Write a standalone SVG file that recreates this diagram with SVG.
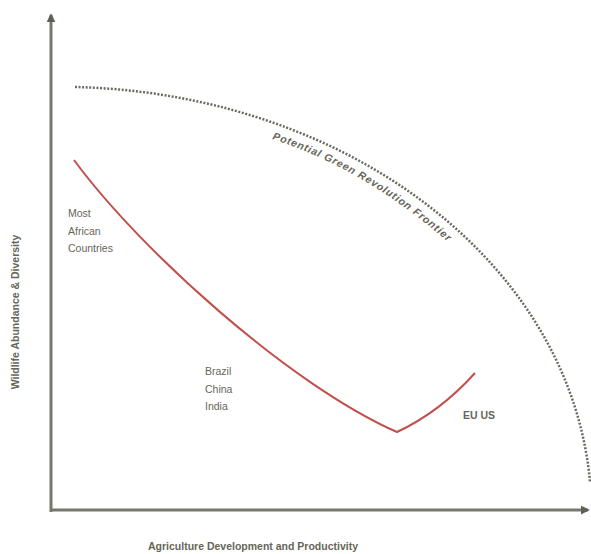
<svg xmlns="http://www.w3.org/2000/svg" width="591" height="554" viewBox="0 0 591 554">
<style>
.axis{stroke:#77786a;stroke-width:3;fill:none}
.lbl{font-family:"Liberation Sans",Arial,sans-serif;font-size:10.5px;fill:#66665a}
.b{font-weight:bold}
</style>
<defs>
<marker id="ah" viewBox="0 0 10 10" refX="8" refY="5" markerWidth="3" markerHeight="3" orient="auto">
<path d="M0,0 L10,5 L0,10 z" fill="#5f6055"/>
</marker>
<path id="fp" d="M272,139 Q 375,172 470,262"/>
</defs>
<rect width="591" height="554" fill="#fff"/>
<g id="axes">
<line class="axis" x1="51" y1="512" x2="51" y2="15" marker-end="url(#ah)"/>
<line class="axis" x1="50" y1="510" x2="588" y2="510" marker-end="url(#ah)"/>
</g>
<g id="frontier">
<path d="M75,87 A 532 425 0 0 1 590,482" fill="none" stroke="#6b6b60" stroke-width="2.5" stroke-dasharray="2,1.6"/>
<text class="lbl b" font-style="italic" font-size="12" letter-spacing="0.8"><textPath href="#fp">Potential Green Revolution Frontier</textPath></text>
</g>
<g id="curve">
<path d="M74,160 C 140,250 290,385 397,432 Q 440,412 475,373" fill="none" stroke="#c0504d" stroke-width="2"/>
</g>
<g id="labels">
<text class="lbl" x="68" y="217">Most</text>
<text class="lbl" x="68" y="235">African</text>
<text class="lbl" x="68" y="252">Countries</text>
<text class="lbl" x="205" y="375">Brazil</text>
<text class="lbl" x="205" y="393">China</text>
<text class="lbl" x="205" y="410">India</text>
<text class="lbl b" x="463" y="419">EU  US</text>
<text class="lbl b" x="148" y="550" font-size="10">Agriculture Development and Productivity</text>
<text class="lbl b" x="0" y="0" font-size="9.5" text-anchor="middle" transform="translate(19,312) rotate(-90)">Wildlife Abundance &amp; Diversity</text>
</g>
</svg>
